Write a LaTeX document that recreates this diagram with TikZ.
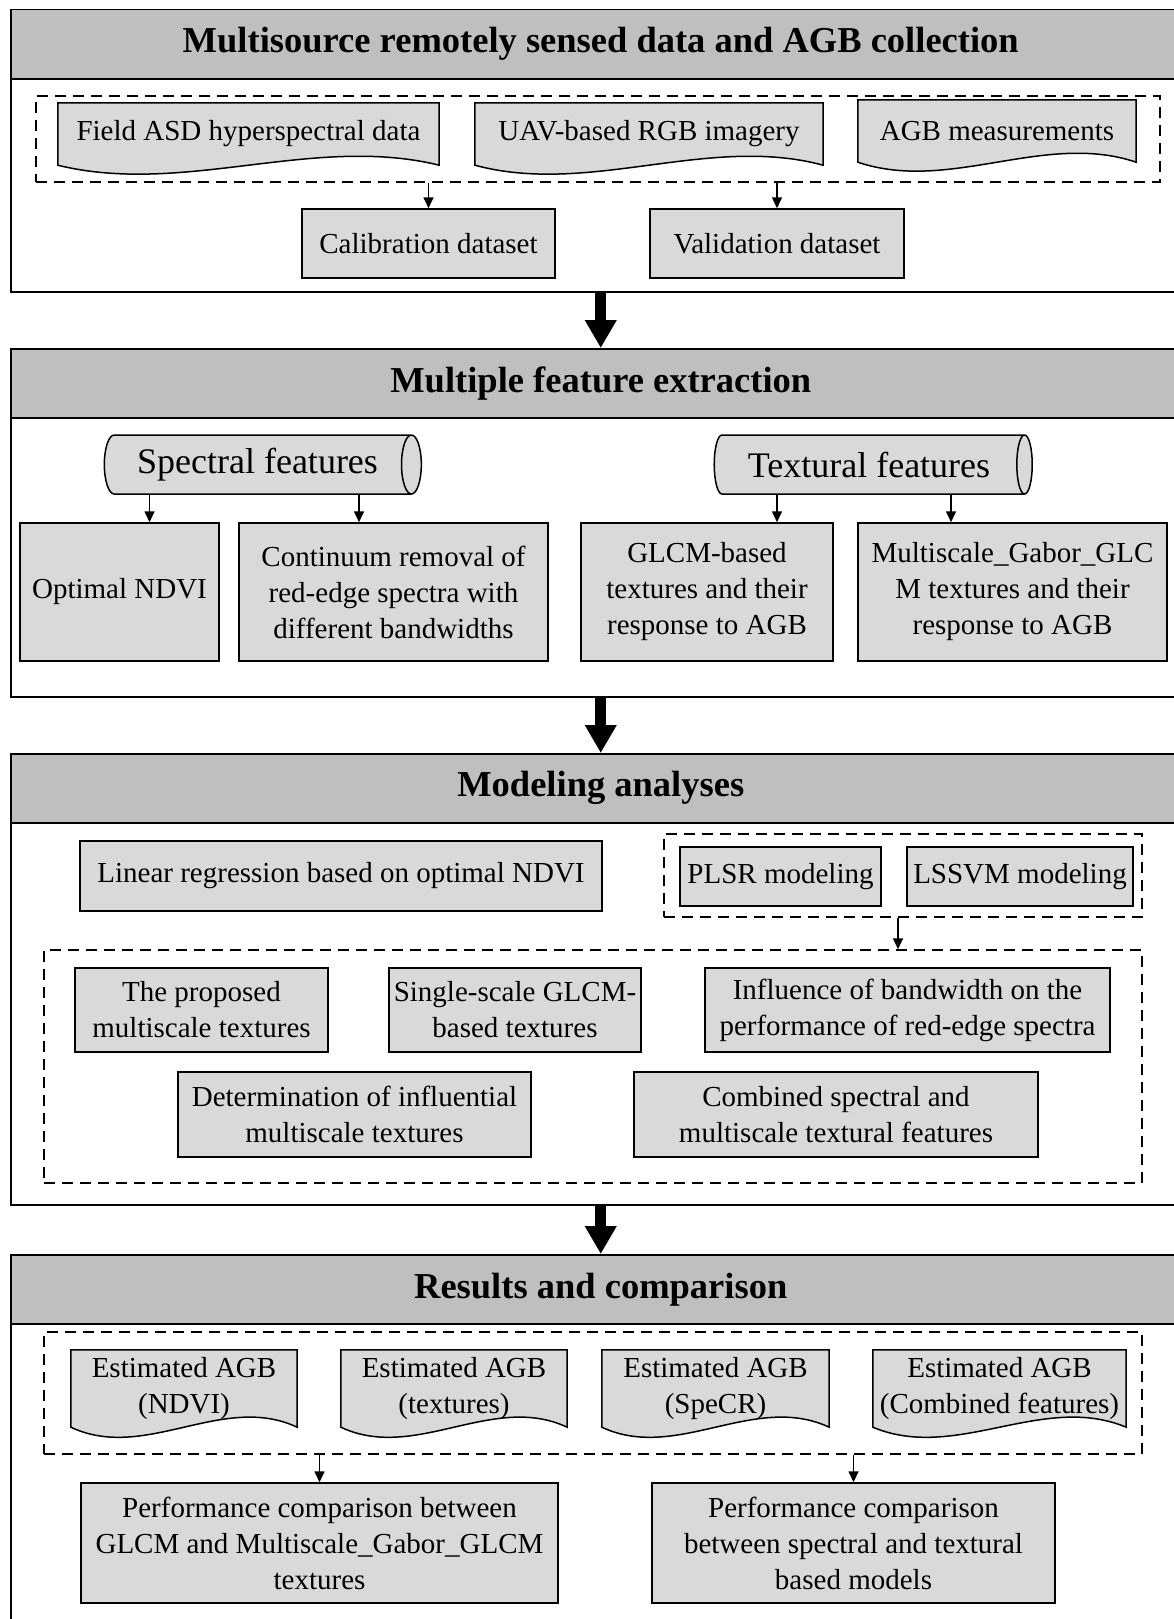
\documentclass[tikz,border=0pt]{standalone}
\usepackage{fontspec}
\setmainfont{Liberation Serif}
\usepackage{xcolor}
\usepackage{tikz}
\usetikzlibrary{arrows.meta, positioning, calc, shapes.geometric, backgrounds}

\definecolor{headgray}{RGB}{191,191,191}
\definecolor{boxgray}{RGB}{217,217,217}

% document shape: wavy lower edge drawn behind a text node
\newcommand{\docoutline}[2]{%
  \filldraw[docline] (#1.north west) -- (#1.north east) -- (#1.south east)
    .. controls ($(#1.south east)!0.33!(#1.south west)+(0,-#2)$)
    and ($(#1.south east)!0.67!(#1.south west)+(0,#2)$) .. (#1.south west) -- cycle;}

\begin{document}
\begin{tikzpicture}[x=1pt, y=-1pt,
  secframe/.style={draw, line width=1.5pt, anchor=north west, minimum width=1180pt, inner sep=0pt},
  sechead/.style={draw, fill=headgray, line width=1.5pt, anchor=north west, minimum width=1180pt,
    minimum height=69pt, font=\fontsize{36.5}{44}\selectfont\bfseries},
  box/.style={draw, fill=boxgray, line width=1.5pt, align=center, inner sep=2pt,
    font=\fontsize{29}{36}\selectfont},
  doc/.style={align=center, inner sep=2pt, font=\fontsize{29}{36}\selectfont},
  docline/.style={draw, fill=boxgray, line width=1.5pt},
  dashgroup/.style={draw, line width=1.5pt, dash pattern=on 11pt off 7pt, inner sep=0pt},
  drum/.style={cylinder, draw, fill=boxgray, line width=1.5pt, aspect=0.6, inner sep=0pt,
    font=\fontsize{36}{43}\selectfont},
  flow/.style={-{Triangle[length=11pt, width=10pt]}, line width=1.6pt},
  bigflow/.style={-{Triangle[length=28pt, width=30pt]}, line width=11pt}
]
\useasboundingbox (0,0) rectangle (1173,1619);

% sections
\node[secframe, minimum height=282pt] (f1) at (10,9) {};
\node[sechead] (h1) at (10,9) {Multisource remotely sensed data and AGB collection};
\node[secframe, minimum height=348pt] (f2) at (10,348) {};
\node[sechead] (h2) at (10,348) {Multiple feature extraction};
\node[secframe, minimum height=451pt] (f3) at (10,753) {};
\node[sechead] (h3) at (10,753) {Modeling analyses};
\node[secframe, minimum height=400pt] (f4) at (10,1254) {};
\node[sechead] (h4) at (10,1254) {Results and comparison};

\draw[bigflow] (f1.south) -- (h2.north);
\draw[bigflow] (f2.south) -- (h3.north);
\draw[bigflow] (f3.south) -- (h4.north);

% data collection
\node[dashgroup, minimum width=1124pt, minimum height=86pt] (g1) at (598,139) {};
\node[doc, minimum width=381pt, minimum height=62pt] (asd) at (248.5,134) {Field ASD hyperspectral data};
\node[doc, minimum width=348pt, minimum height=62pt] (uav) at (649,134) {UAV-based RGB imagery};
\node[doc, minimum width=278pt, minimum height=62pt] (meas) at (997,131) {AGB measurements};
\node[box, minimum width=253pt, minimum height=69pt] (cal) at (428.5,243.5) {Calibration dataset};
\node[box, minimum width=254pt, minimum height=69pt] (val) at (777,243.5) {Validation dataset};
\draw[flow] (g1.south -| cal.north) -- (cal.north);
\draw[flow] (g1.south -| val.north) -- (val.north);

% feature extraction
\node[drum, minimum width=59pt, minimum height=317pt] (spec) at (257.5,464.5) {Spectral features};
\node[drum, minimum width=59pt, minimum height=318pt] (tex) at (869,464.5) {Textural features};
\node[box, minimum width=199pt, minimum height=138pt] (ndvi) at (119.5,592) {Optimal NDVI};
\node[box, minimum width=309pt, minimum height=138pt] (cr) at (393.5,592) {Continuum removal of\\red-edge spectra with\\different bandwidths};
\node[box, minimum width=252pt, minimum height=138pt] (glcm) at (707,592) {GLCM-based\\textures and their\\response to AGB};
\node[box, minimum width=309pt, minimum height=138pt] (mgg) at (1012.5,592) {Multiscale\_Gabor\_GLC\\M textures and their\\response to AGB};
\draw[flow] ([xshift=30pt]ndvi.north |- spec.south) -- ([xshift=30pt]ndvi.north);
\draw[flow] ([xshift=-34.5pt]cr.north |- spec.south) -- ([xshift=-34.5pt]cr.north);
\draw[flow] ([xshift=70pt]glcm.north |- tex.south) -- ([xshift=70pt]glcm.north);
\draw[flow] ([xshift=-61.5pt]mgg.north |- tex.south) -- ([xshift=-61.5pt]mgg.north);

% modeling
\node[box, minimum width=522pt, minimum height=70pt] (lin) at (341,876) {Linear regression based on optimal NDVI};
\node[dashgroup, minimum width=478pt, minimum height=83pt] (g2) at (903,875.5) {};
\node[box, minimum width=201pt, minimum height=59pt] (plsr) at (780.5,876.5) {PLSR modeling};
\node[box, minimum width=226pt, minimum height=59pt] (lssvm) at (1020,876.5) {LSSVM modeling};
\node[dashgroup, minimum width=1098pt, minimum height=233pt] (g3) at (593,1066.5) {};
\draw[flow] ([xshift=-5pt]g2.south) -- ([xshift=-5pt]g2.south |- g3.north);
\node[box, minimum width=253pt, minimum height=84pt] (prop) at (201.5,1010) {The proposed\\multiscale textures};
\node[box, minimum width=252pt, minimum height=84pt] (single) at (515,1010) {Single-scale GLCM-\\based textures};
\node[box, minimum width=405pt, minimum height=84pt] (band) at (907.5,1010) {Influence of bandwidth on the\\performance of red-edge spectra};
\node[box, minimum width=353pt, minimum height=85pt] (infl) at (354.5,1114.5) {Determination of influential\\multiscale textures};
\node[box, minimum width=404pt, minimum height=85pt] (comb) at (836,1114.5) {Combined spectral and\\multiscale textural features};

% results
\node[dashgroup, minimum width=1098pt, minimum height=122pt] (g4) at (593,1393) {};
\node[doc, minimum width=226pt, minimum height=77pt] (e1) at (184,1388.5) {Estimated AGB\\(NDVI)};
\node[doc, minimum width=226pt, minimum height=77pt] (e2) at (454,1388.5) {Estimated AGB\\(textures)};
\node[doc, minimum width=227pt, minimum height=77pt] (e3) at (715.5,1388.5) {Estimated AGB\\(SpeCR)};
\node[doc, minimum width=253pt, minimum height=77pt] (e4) at (999.5,1388.5) {Estimated AGB\\(Combined features)};
\node[box, minimum width=477pt, minimum height=120pt] (pc1) at (319.5,1543) {Performance comparison between\\GLCM and Multiscale\_Gabor\_GLCM\\textures};
\node[box, minimum width=403pt, minimum height=120pt] (pc2) at (853.5,1543) {Performance comparison\\between spectral and textural\\based models};
\draw[flow] (g4.south -| pc1.north) -- (pc1.north);
\draw[flow] (g4.south -| pc2.north) -- (pc2.north);

\begin{scope}[on background layer]
\docoutline{asd}{31}
\docoutline{uav}{31}
\docoutline{meas}{31}
\docoutline{e1}{35}
\docoutline{e2}{35}
\docoutline{e3}{35}
\docoutline{e4}{35}
\end{scope}
\end{tikzpicture}
\end{document}
